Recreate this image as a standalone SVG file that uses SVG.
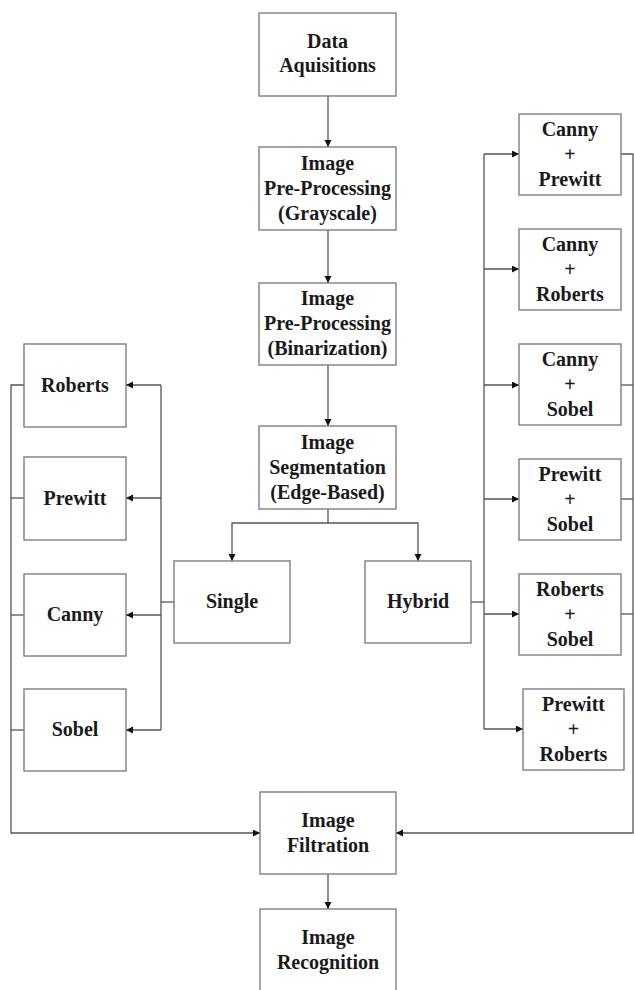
<svg xmlns="http://www.w3.org/2000/svg" width="634" height="990" viewBox="0 0 634 990">
<style>
.box{fill:#fff;stroke:#7f7f7f;stroke-width:1.4}
.t{font-family:"Liberation Serif","Times New Roman",serif;font-weight:bold;font-size:20px;fill:#1a1a1a;text-anchor:middle}
.c{fill:none;stroke:#555;stroke-width:1.3}
.a{marker-end:url(#ah)}
</style>
<defs>
<marker id="ah" markerUnits="userSpaceOnUse" markerWidth="8" markerHeight="8" refX="7" refY="3.5" orient="auto">
<path d="M0,0 L7,3.5 L0,7 z" fill="#111"/>
</marker>
</defs>
<rect width="634" height="990" fill="#fff"/>
<g id="connectors">
<path class="c a" d="M328 96 V147"/>
<path class="c a" d="M328 230 V283"/>
<path class="c a" d="M328 365 V426"/>
<path class="c" d="M328 509 V523"/>
<path class="c a" d="M328 523 H232 V561"/>
<path class="c a" d="M328 523 H418 V561"/>
<path class="c" d="M174 602 H161"/>
<path class="c" d="M161 385 V730"/>
<path class="c a" d="M161 385 H126"/>
<path class="c a" d="M161 498 H126"/>
<path class="c a" d="M161 615 H126"/>
<path class="c a" d="M161 730 H126"/>
<path class="c a" d="M24 385 H11 V833 H260"/>
<path class="c" d="M24 498 H11"/>
<path class="c" d="M24 615 H11"/>
<path class="c" d="M24 730 H11"/>
<path class="c" d="M471 602 H484"/>
<path class="c" d="M484 154 V729"/>
<path class="c a" d="M484 154 H519"/>
<path class="c a" d="M484 269 H519"/>
<path class="c a" d="M484 385 H519"/>
<path class="c a" d="M484 499 H519"/>
<path class="c a" d="M484 614 H519"/>
<path class="c a" d="M484 729 H523"/>
<path class="c a" d="M621 154 H633 V833 H396"/>
<path class="c" d="M621 385 H633"/>
<path class="c" d="M621 499 H633"/>
<path class="c" d="M621 614 H633"/>
<path class="c a" d="M328 874 V909"/>
</g>
<g id="data"><rect class="box" x="259" y="13" width="137" height="83"/><text class="t" x="327.5" y="48">Data</text><text class="t" x="327.5" y="72">Aquisitions</text></g>
<g id="grayscale"><rect class="box" x="259" y="147" width="137" height="83"/><text class="t" x="327.5" y="170">Image</text><text class="t" x="327.5" y="195">Pre-Processing</text><text class="t" x="327.5" y="220">(Grayscale)</text></g>
<g id="binarization"><rect class="box" x="259" y="283" width="137" height="82"/><text class="t" x="327.5" y="305">Image</text><text class="t" x="327.5" y="330">Pre-Processing</text><text class="t" x="327.5" y="355">(Binarization)</text></g>
<g id="segmentation"><rect class="box" x="259" y="426" width="137" height="83"/><text class="t" x="327.5" y="449">Image</text><text class="t" x="327.5" y="474">Segmentation</text><text class="t" x="327.5" y="499">(Edge-Based)</text></g>
<g id="single"><rect class="box" x="174" y="561" width="116" height="82"/><text class="t" x="232" y="608">Single</text></g>
<g id="hybrid"><rect class="box" x="365" y="561" width="106" height="82"/><text class="t" x="418" y="608">Hybrid</text></g>
<g id="roberts"><rect class="box" x="24" y="344" width="102" height="83"/><text class="t" x="75" y="392">Roberts</text></g>
<g id="prewitt"><rect class="box" x="24" y="457" width="102" height="83"/><text class="t" x="75" y="505">Prewitt</text></g>
<g id="canny"><rect class="box" x="24" y="574" width="102" height="82"/><text class="t" x="75" y="621">Canny</text></g>
<g id="sobel"><rect class="box" x="24" y="689" width="102" height="82"/><text class="t" x="75" y="736">Sobel</text></g>
<g id="canny-prewitt"><rect class="box" x="519" y="114" width="102" height="81"/><text class="t" x="570" y="136">Canny</text><text class="t" x="570" y="161">+</text><text class="t" x="570" y="186">Prewitt</text></g>
<g id="canny-roberts"><rect class="box" x="519" y="229" width="102" height="81"/><text class="t" x="570" y="251">Canny</text><text class="t" x="570" y="276">+</text><text class="t" x="570" y="301">Roberts</text></g>
<g id="canny-sobel"><rect class="box" x="519" y="344" width="102" height="81"/><text class="t" x="570" y="366">Canny</text><text class="t" x="570" y="391">+</text><text class="t" x="570" y="416">Sobel</text></g>
<g id="prewitt-sobel"><rect class="box" x="519" y="459" width="102" height="81"/><text class="t" x="570" y="481">Prewitt</text><text class="t" x="570" y="506">+</text><text class="t" x="570" y="531">Sobel</text></g>
<g id="roberts-sobel"><rect class="box" x="519" y="574" width="102" height="81"/><text class="t" x="570" y="596">Roberts</text><text class="t" x="570" y="621">+</text><text class="t" x="570" y="646">Sobel</text></g>
<g id="prewitt-roberts"><rect class="box" x="523" y="689" width="101" height="81"/><text class="t" x="573.5" y="711">Prewitt</text><text class="t" x="573.5" y="736">+</text><text class="t" x="573.5" y="761">Roberts</text></g>
<g id="filtration"><rect class="box" x="260" y="792" width="136" height="82"/><text class="t" x="328" y="827">Image</text><text class="t" x="328" y="852">Filtration</text></g>
<g id="recognition"><rect class="box" x="260" y="909" width="136" height="84"/><text class="t" x="328" y="944">Image</text><text class="t" x="328" y="969">Recognition</text></g>
</svg>
